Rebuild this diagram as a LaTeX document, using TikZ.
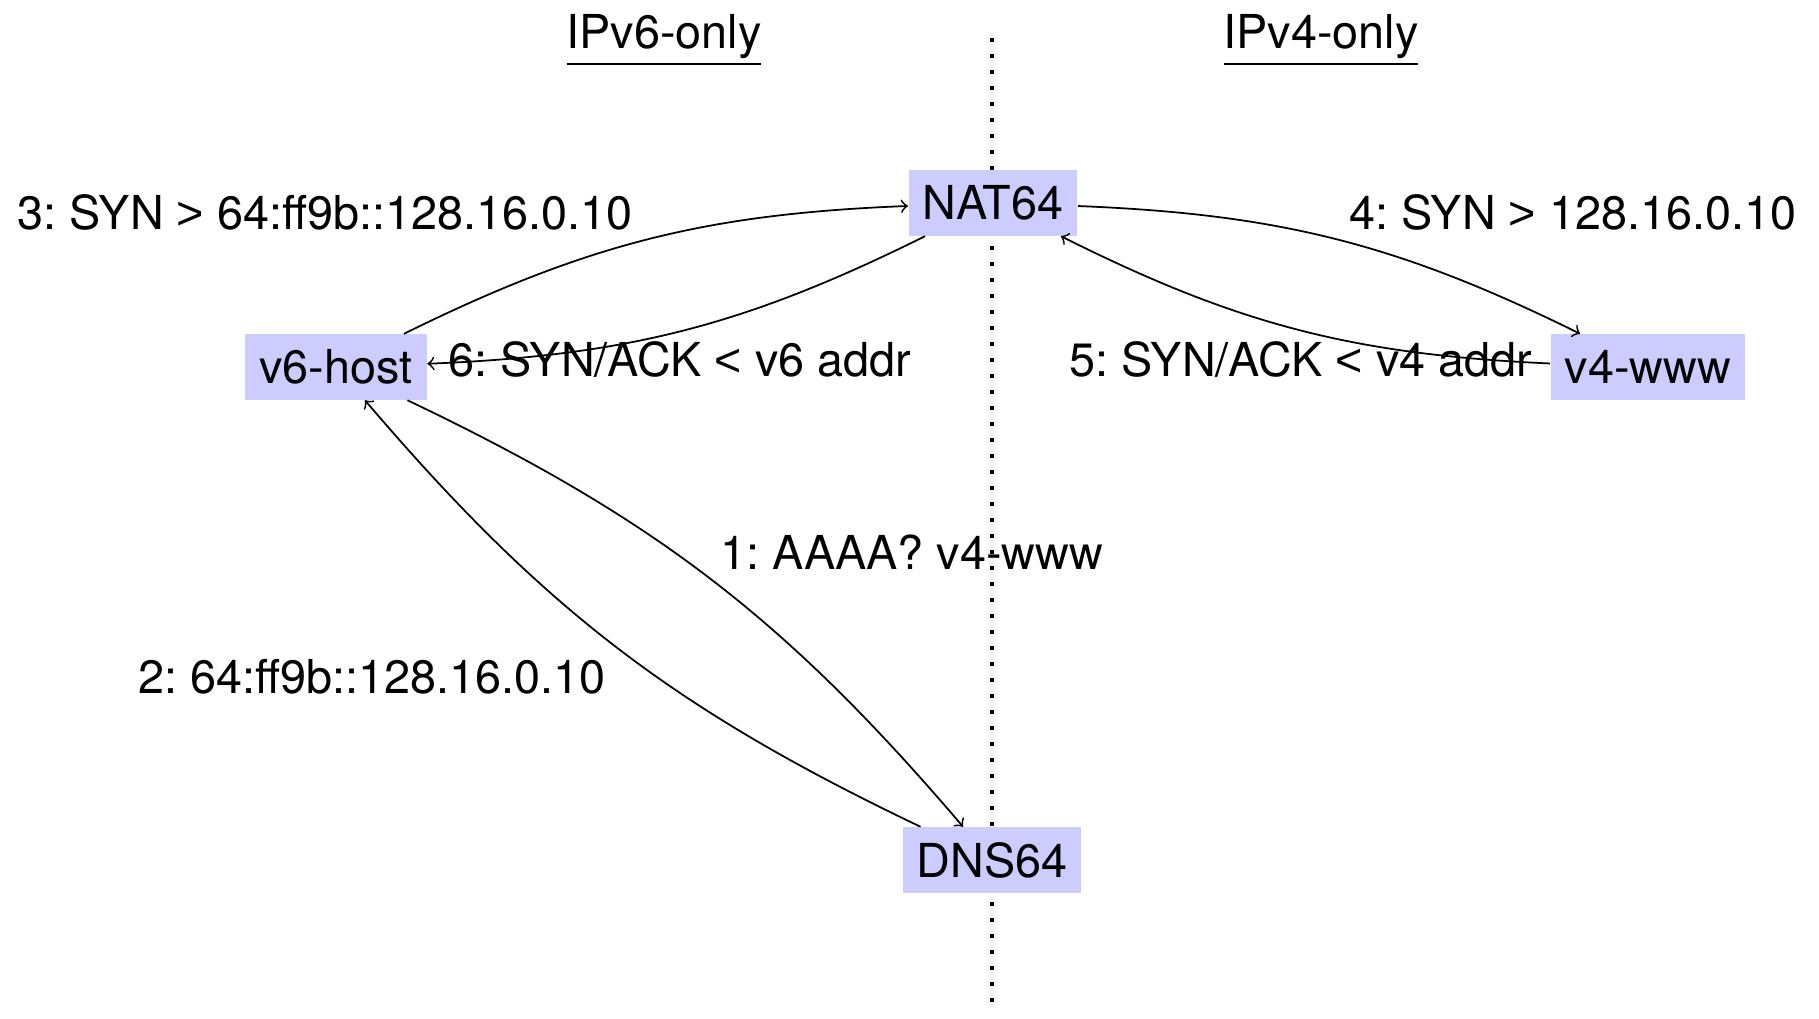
\documentclass[tikz,border=0pt]{standalone}
\usepackage{fontspec}
\setmainfont{TeX Gyre Heros}
\newfontfamily\relfont{Liberation Sans}
\newcommand{\symgt}{{\relfont >}}
\newcommand{\symlt}{{\relfont <}}
\usepackage{tikz}

\begin{document}
\frenchspacing
\begin{tikzpicture}[x=0.01cm, y=0.01cm,
    box/.style={fill=blue!20, inner xsep=0.14cm, minimum height=0.65cm, font=\fontsize{13.3}{16}\selectfont},
    lbl/.style={anchor=base, font=\fontsize{13.3}{16}\selectfont},
    msg/.style={->, line width=0.5pt, bend left=12}]
  \useasboundingbox (0, 0) rectangle (1819, 1018);

  % border between the two networks
  \coordinate (top) at (992, 980);
  \coordinate (bot) at (992, 5);
  \draw[line width=1.1pt, dash pattern=on 1.1pt off 3.45pt] (top) -- (bot);

  % network headings
  \node[lbl] (v6net) at (664, 969) {\underline{IPv6-only}};
  \node[lbl] (v4net) at (1321, 969) {\underline{IPv4-only}};

  % hosts and translators
  \node[box] (nat) at (993, 815) {NAT64};
  \node[box] (v6host) at (336, 651) {v6-host};
  \node[box] (v4www) at (1648, 651) {v4-www};
  \node[box] (dns) at (992, 158) {DNS64};

  % messages
  \foreach \a/\b in {v6host/dns, dns/v6host, v6host/nat, nat/v4www, v4www/nat, nat/v6host} {
    \draw[msg] (\a) to (\b);
  }

  % message labels
  \node[lbl] (m1) at (912, 448) {1: AAAA? v4-www};
  \node[lbl] (m2) at (372, 324) {2: 64:ff9b::128.16.0.10};
  \node[lbl] (m3) at (325, 788) {3: SYN \symgt{} 64:ff9b::128.16.0.10};
  \node[lbl] (m4) at (1573, 788) {4: SYN \symgt{} 128.16.0.10};
  \node[lbl] (m5) at (1301, 641) {5: SYN/ACK \symlt{} v4 addr};
  \node[lbl] (m6) at (680, 641) {6: SYN/ACK \symlt{} v6 addr};
\end{tikzpicture}
\end{document}
